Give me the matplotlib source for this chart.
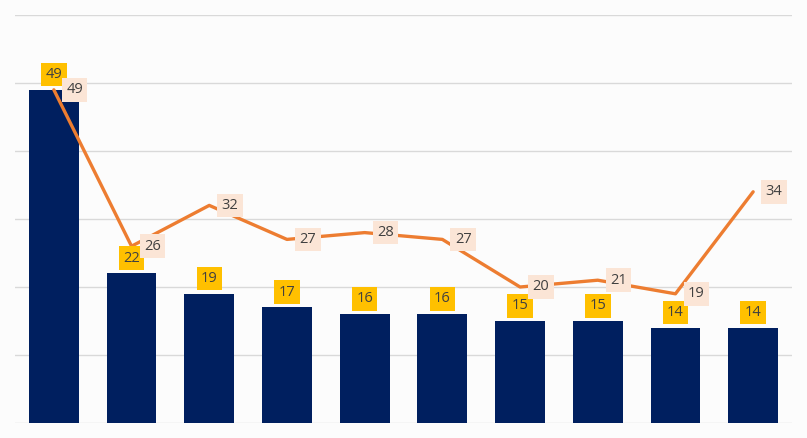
import matplotlib.pyplot as plt
import numpy as np

# values
categories = ['A', 'B', 'C', 'D', 'E', 'F', 'G', 'H', 'I', 'J']
bar_values = [49, 22, 19, 17, 16, 16, 15, 15, 14, 14]
line_values = [49, 26, 32, 27, 28, 27, 20, 21, 19, 34]

bar_color = '#001F5F'
line_color = '#ED7D31'
bg = '#FCFCFC'

plt.rcParams['font.family'] = ['Open Sans', 'DejaVu Sans']

fig = plt.figure(figsize=(8.07, 4.38), dpi=100, facecolor=bg)
ax = fig.add_axes([15 / 807, 15 / 438, 777 / 807, 408 / 438], facecolor=bg)

x = np.arange(len(categories))
ax.bar(x, bar_values, width=0.64, color=bar_color, zorder=2)
ax.plot(x, line_values, color=line_color, linewidth=2.4, zorder=3,
        solid_capstyle='round', solid_joinstyle='round')

# bar labels: yellow boxes above bars
for xi, v in zip(x, bar_values):
    ax.annotate(str(v), (xi, v), xytext=(0, 11), textcoords='offset points',
                ha='center', va='center', fontsize=10.5, color='#404040', zorder=4,
                bbox=dict(boxstyle='square,pad=0.3', fc='#FFC000', ec='none'))

# line labels: peach boxes right of points
for xi, v in zip(x, line_values):
    ax.annotate(str(v), (xi, v), xytext=(15, 0), textcoords='offset points',
                ha='center', va='center', fontsize=10.5, color='#404040', zorder=5,
                bbox=dict(boxstyle='square,pad=0.3', fc='#FBE5D6', ec='none'))

ax.set_xlim(-0.5, len(categories) - 0.5)
ax.set_ylim(0, 60)
ax.set_yticks(np.arange(0, 61, 10))
ax.yaxis.grid(True, color='#D9D9D9', linewidth=1)
ax.set_axisbelow(True)
ax.tick_params(left=False, bottom=False, labelleft=False, labelbottom=False)
for s in ax.spines.values():
    s.set_visible(False)

plt.savefig('out.png', dpi=100, facecolor=bg)
